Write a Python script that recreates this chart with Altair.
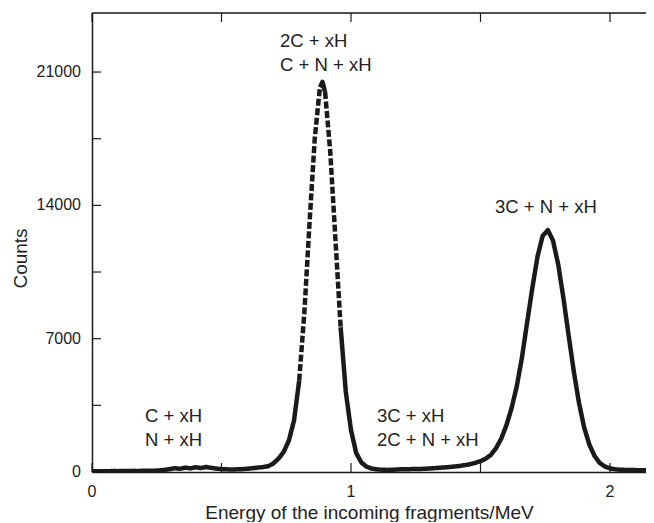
import altair as alt
import pandas as pd

# ---- data ----
energy = [0.00, 0.02, 0.04, 0.06, 0.08, 0.10, 0.12, 0.14, 0.16, 0.18,
          0.20, 0.22, 0.24, 0.26, 0.28, 0.30, 0.32, 0.34, 0.36, 0.38,
          0.40, 0.42, 0.44, 0.46, 0.48, 0.50, 0.52, 0.54, 0.56, 0.58,
          0.60, 0.62, 0.64, 0.66, 0.68, 0.70, 0.72, 0.74, 0.76, 0.78,
          0.80, 0.82, 0.84, 0.86, 0.88, 0.89, 0.90, 0.92, 0.94, 0.96, 0.98,
          1.00, 1.02, 1.04, 1.06, 1.08, 1.10, 1.12, 1.14, 1.16, 1.18,
          1.20, 1.22, 1.24, 1.26, 1.28, 1.30, 1.32, 1.34, 1.36, 1.38,
          1.40, 1.42, 1.44, 1.46, 1.48, 1.50, 1.52, 1.54, 1.56, 1.58,
          1.60, 1.62, 1.64, 1.66, 1.68, 1.70, 1.72, 1.74, 1.76, 1.78,
          1.80, 1.82, 1.84, 1.86, 1.88, 1.90, 1.92, 1.94, 1.96, 1.98,
          2.00, 2.02, 2.04, 2.06, 2.08, 2.10, 2.12, 2.14]
counts = [40, 35, 45, 40, 50, 45, 55, 50, 60, 55,
          65, 60, 70, 80, 110, 150, 200, 170, 230, 190,
          250, 210, 260, 220, 180, 150, 140, 130, 140, 150,
          170, 200, 230, 260, 300, 450, 700, 1050, 1650, 2700,
          4800, 8400, 13100, 17500, 20200, 20480, 19950, 16800, 12200, 7600, 4200,
          2200, 1000, 500, 280, 180, 140, 120, 110, 120, 130,
          150, 140, 160, 150, 170, 180, 200, 220, 240, 260,
          290, 320, 360, 410, 480, 570, 700, 900, 1250, 1750,
          2450, 3350, 4500, 6000, 7850, 9650, 11300, 12400, 12700, 12150,
          10900, 9150, 7200, 5300, 3650, 2350, 1450, 850, 480, 290,
          190, 140, 120, 110, 100, 100, 90, 90]
# energies (taken from the list above) where the trace switches between
# solid and dotted-looking
dash_edges = [0.80, 0.88, 0.90, 0.96]

x_tick_values = [0, 0.5, 1, 1.5, 2]
x_label_values = [0, 1, 2]
y_tick_values = [0, 3500, 7000, 10500, 14000, 17500, 21000]
y_label_values = [0, 7000, 14000, 21000]

ann_text = ["2C + xH", "C + N + xH", "C + xH", "N + xH",
            "3C + xH", "2C + N + xH", "3C + N + xH"]
ann_x = [0.726, 0.726, 0.205, 0.205, 1.100, 1.100, 1.556]
ann_y = [22630, 21370, 2940, 1680, 2940, 1680, 13915]

# ---- table for the library ----
rows = []
for e, c in zip(energy, counts):
    k = sum(e > b for b in dash_edges)
    rows.append({"energy": e, "counts": c, "seg": k,
                 "style": "dashed" if k % 2 else "solid"})
    if e in dash_edges:
        rows.append({"energy": e, "counts": c, "seg": k + 1,
                     "style": "dashed" if (k + 1) % 2 else "solid"})
df = pd.DataFrame(rows)

# ---- chart ----
W, H = 554, 459
FONT = "Liberation Sans"
INK = "#1a1a1a"
TXT = "#222222"
XTITLE = "Energy of the incoming fragments/MeV"

xs = alt.Scale(domain=[0, 2.139], nice=False, zero=False)
ys = alt.Scale(domain=[0, 24100], nice=False)

x_axis = alt.Axis(values=x_label_values, labels=False, ticks=False, grid=False,
                  domainColor=INK, domainWidth=1.5,
                  title=XTITLE, titleFontSize=19, titleFontWeight="normal",
                  titleColor=TXT, titleFont=FONT,
                  titleY=46, titleBaseline="alphabetic")
y_axis = alt.Axis(values=y_label_values, labels=False, ticks=False, grid=False,
                  domainColor=INK, domainWidth=1.5,
                  title="Counts", titleFontSize=19, titleFontWeight="normal",
                  titleColor=TXT, titleFont=FONT,
                  titleX=-72, titleY=245, titleAngle=270,
                  titleAlign="center", titleBaseline="middle")

curve = alt.Chart(df).mark_line(color=INK, strokeWidth=4.5, clip=True,
                                strokeJoin="round", strokeCap="butt").encode(
    x=alt.X("energy:Q", scale=xs, axis=x_axis, title=XTITLE),
    y=alt.Y("counts:Q", scale=ys, axis=y_axis, title="Counts"),
    detail="seg:N",
    strokeDash=alt.StrokeDash("style:N", legend=None,
                              scale=alt.Scale(domain=["solid", "dashed"],
                                              range=[[1, 0], [7, 2.5]])),
)

top_border = alt.Chart(pd.DataFrame({"a": [0]})).mark_rule(
    color=INK, strokeWidth=1.5).encode(
    x=alt.value(0), x2=alt.value(W), y=alt.value(0))

xt = pd.DataFrame({"v": x_tick_values})
yt = pd.DataFrame({"v": y_tick_values})

bottom_ticks = alt.Chart(xt).mark_rule(color=INK, strokeWidth=1.2).encode(
    x=alt.X("v:Q", scale=xs, axis=x_axis, title=XTITLE),
    y=alt.value(H), y2=alt.value(H - 9))
top_ticks = alt.Chart(xt).mark_rule(color=INK, strokeWidth=1.2).encode(
    x=alt.X("v:Q", scale=xs, axis=x_axis, title=XTITLE),
    y=alt.value(0), y2=alt.value(9))
left_ticks = alt.Chart(yt).mark_rule(color=INK, strokeWidth=1.2).encode(
    y=alt.Y("v:Q", scale=ys, axis=y_axis, title="Counts"),
    x=alt.value(0), x2=alt.value(9))

# tick labels as text placed through the scales
x_lab = alt.Chart(pd.DataFrame({"v": x_label_values,
                                "t": [str(v) for v in x_label_values]})).mark_text(
    align="center", baseline="middle", fontSize=16, font=FONT, color=TXT).encode(
    x=alt.X("v:Q", scale=xs, axis=x_axis, title=XTITLE),
    y=alt.value(H + 20), text="t:N")
y_lab = alt.Chart(pd.DataFrame({"v": y_label_values,
                                "t": [str(v) for v in y_label_values]})).mark_text(
    align="right", baseline="middle", fontSize=16, font=FONT, color=TXT).encode(
    y=alt.Y("v:Q", scale=ys, axis=y_axis, title="Counts"),
    x=alt.value(-11), text="t:N")

ann = alt.Chart(pd.DataFrame({"t": ann_text, "x": ann_x, "y": ann_y})).mark_text(
    align="left", baseline="middle", fontSize=18.5, font=FONT, color=TXT).encode(
    x=alt.X("x:Q", scale=xs, axis=x_axis, title=XTITLE),
    y=alt.Y("y:Q", scale=ys, axis=y_axis, title="Counts"),
    text="t:N")

chart = alt.layer(curve, top_border, bottom_ticks, top_ticks, left_ticks,
                  x_lab, y_lab, ann).properties(
    width=W, height=H,
    autosize=alt.AutoSizeParams(type="none"),
    padding={"left": 84, "top": 5, "right": 0, "bottom": 50},
).configure_view(stroke=None).configure(background="white")

chart.save("out.html", embed_options={"renderer": "svg", "actions": False})
